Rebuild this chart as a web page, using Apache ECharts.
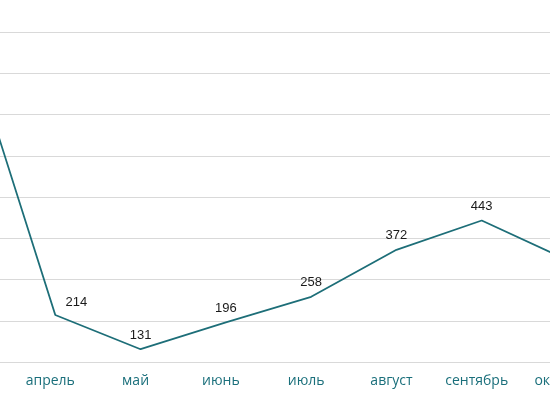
<!DOCTYPE html>
<html>
<head>
<meta charset="utf-8">
<script src="https://cdn.jsdelivr.net/npm/echarts@6/dist/echarts.min.js"></script>
<style>
  html, body { margin: 0; padding: 0; background: #fff; }
  #chart { width: 550px; height: 410px; }
</style>
</head>
<body>
<div id="chart"></div>
<script>
// months (март and октябрь are only partly in view)
var months = ['март', 'апрель', 'май', 'июнь', 'июль', 'август', 'сентябрь', 'октябрь'];
var counts = [865, 214, 131, 196, 258, 372, 443, 348];
var yTicks = [100, 900, 100]; // min, max, step

var lineColor = '#1d6e78';

var myChart = echarts.init(document.getElementById('chart'), null, { renderer: 'canvas' });

var option = {
  animation: false,
  grid: {
    left: -30,
    right: -17,
    top: 32,
    bottom: 48,
    containLabel: false,
    outerBoundsMode: 'none'
  },
  xAxis: {
    type: 'category',
    data: months,
    boundaryGap: false,
    axisLine: { show: true, lineStyle: { color: '#d9d9d9', width: 1 } },
    axisTick: { show: false },
    axisLabel: {
      interval: 0,
      hideOverlap: false,
      color: '#1a6f7b',
      fontFamily: 'Open Sans',
      fontSize: 14,
      margin: 12,
      padding: [0, 10, 0, 0]
    }
  },
  yAxis: {
    type: 'value',
    min: yTicks[0],
    max: yTicks[1],
    interval: yTicks[2],
    axisLine: { show: false },
    axisTick: { show: false },
    axisLabel: { show: false },
    splitLine: { lineStyle: { color: '#d9d9d9', width: 1 } }
  },
  series: [
    {
      type: 'line',
      data: counts,
      symbol: 'circle',
      symbolSize: 1,
      showSymbol: true,
      itemStyle: { color: 'rgba(0,0,0,0)', borderWidth: 0 },
      lineStyle: { color: lineColor, width: 1.8 },
      label: {
        show: true,
        position: 'top',
        distance: 7,
        color: '#1a1a1a',
        fontFamily: 'Liberation Sans',
        fontSize: 13
      },
      // the апрель label sits to the right of its point
      labelLayout: function (params) {
        if (months[params.dataIndex] === 'апрель') {
          return { dx: 21, dy: 1, hideOverlap: false };
        }
        return { hideOverlap: false };
      }
    }
  ]
};
myChart.setOption(option);
</script>
</body>
</html>
